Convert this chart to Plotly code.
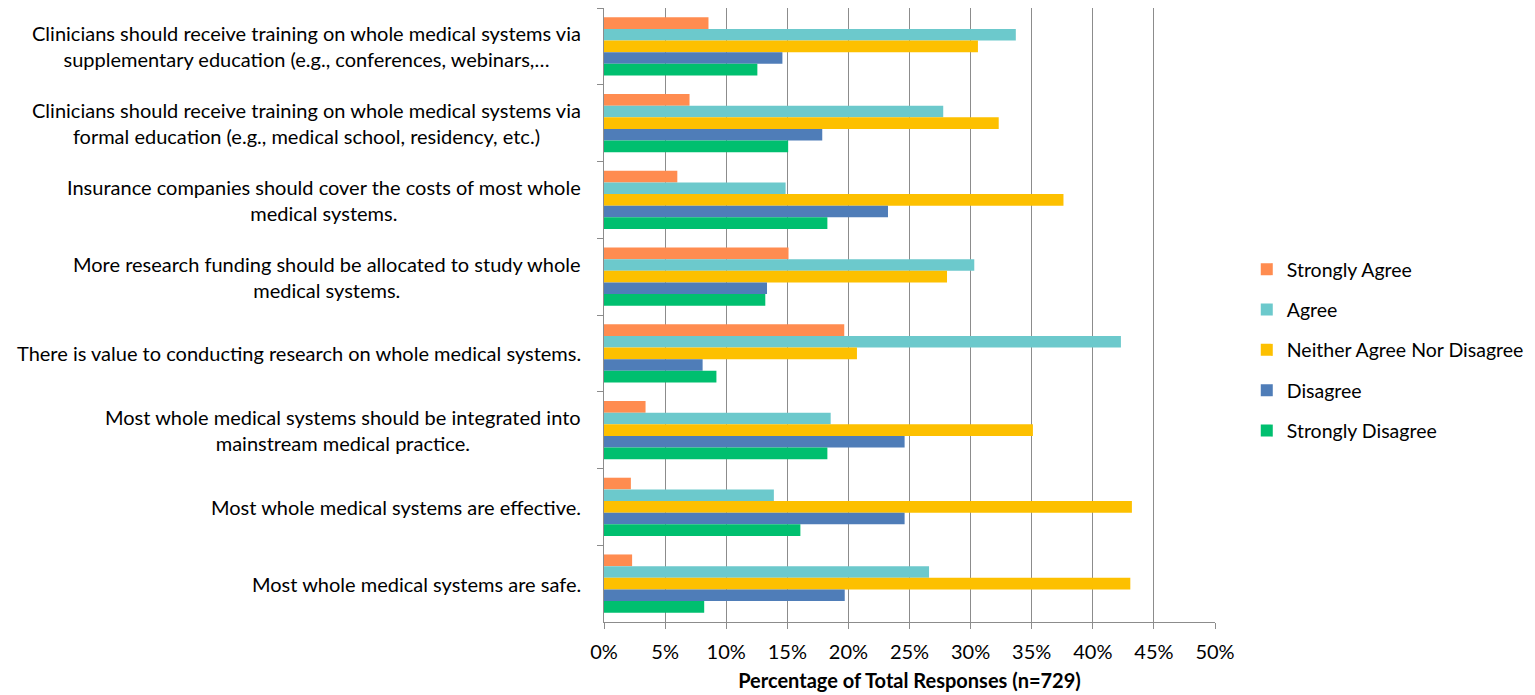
import plotly.graph_objects as go

statements = [
    'Clinicians should receive training on whole medical systems via<br>supplementary education (e.g., conferences, webinars,…',
    'Clinicians should receive training on whole medical systems via<br>formal education (e.g., medical school, residency, etc.)',
    'Insurance companies should cover the costs of most whole<br>medical systems.',
    'More research funding should be allocated to study whole<br>medical systems.',
    'There is value to conducting research on whole medical systems.',
    'Most whole medical systems should be integrated into<br>mainstream medical practice.',
    'Most whole medical systems are effective.',
    'Most whole medical systems are safe.',
]

strongly_agree = [8.55, 7.0, 6.0, 15.1, 19.66, 3.4, 2.2, 2.3]
agree = [33.7, 27.76, 14.86, 30.3, 42.3, 18.55, 13.9, 26.6]
neither = [30.6, 32.3, 37.6, 28.07, 20.7, 35.1, 43.2, 43.07]
disagree = [14.6, 17.86, 23.24, 13.34, 8.07, 24.6, 24.6, 19.7]
strongly_disagree = [12.55, 15.07, 18.28, 13.2, 9.2, 18.28, 16.07, 8.2]

series = [
    ('Strongly Agree', strongly_agree, '#FF8C50'),
    ('Agree', agree, '#6CC9CC'),
    ('Neither Agree Nor Disagree', neither, '#FDC000'),
    ('Disagree', disagree, '#4F7DB8'),
    ('Strongly Disagree', strongly_disagree, '#00BF6F'),
]

FONT = 'Lato'

fig = go.Figure()
for i, (name, vals, color) in enumerate(series):
    fig.add_trace(go.Bar(
        y=statements, x=vals, name=name, orientation='h',
        marker=dict(color=color, line=dict(width=0)),
        legendgroup=f'g{i}',
    ))

# centred multi-line category labels, like the original
for s in statements:
    fig.add_annotation(
        x=0, xref='paper', y=s, yref='y', text=s, showarrow=False,
        xanchor='right', align='center', xshift=-21,
        font=dict(family=FONT, size=20, color='#000000'),
    )

# the page body adds 8px around the figure, so margins are offset by that
fig.update_layout(
    width=1535, height=695,
    margin=dict(l=596, r=328, t=0, b=81),
    paper_bgcolor='white', plot_bgcolor='white',
    barmode='group', bargap=0.24, bargroupgap=0,
    font=dict(family=FONT, size=20, color='#000000'),
    legend=dict(
        x=1.052, y=0.443, xanchor='left', yanchor='middle',
        font=dict(family=FONT, size=19.5), tracegroupgap=12,
        bgcolor='rgba(0,0,0,0)',
    ),
    showlegend=True,
)
fig.update_xaxes(
    range=[0, 50], dtick=5, ticksuffix='%',
    showgrid=True, gridcolor='#8C8C8C', gridwidth=1.3,
    showline=True, linecolor='#8C8C8C', linewidth=1.3,
    ticks='outside', ticklen=6, tickcolor='#8C8C8C',
    tickfont=dict(family=FONT, size=20), zeroline=False,
    ticklabelstandoff=6,
    title=dict(text='<b>Percentage of Total Responses (n=729)</b>',
               font=dict(family=FONT, size=20), standoff=11),
)
fig.update_yaxes(
    autorange='reversed', showticklabels=False,
    showline=True, linecolor='#8C8C8C', linewidth=1.3,
    ticks='outside', ticklen=6, tickcolor='#8C8C8C', tickson='boundaries',
    showgrid=False,
)

fig.write_html('out.html')
